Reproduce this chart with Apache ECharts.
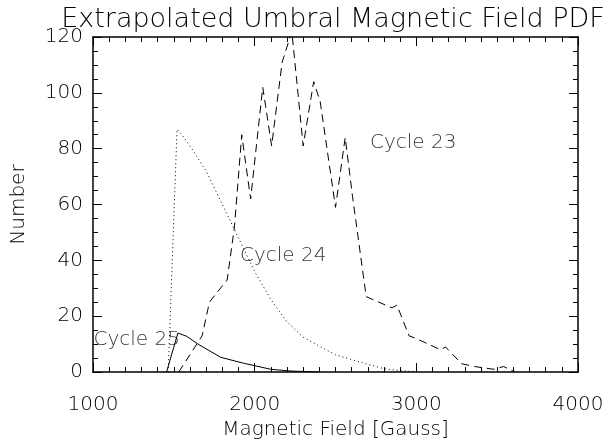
<!DOCTYPE html>
<html>
<head>
<meta charset="utf-8">
<script src="https://cdn.jsdelivr.net/npm/echarts@6/dist/echarts.min.js"></script>
<style>
  html, body { margin: 0; padding: 0; background: #fff; }
  #chart { width: 607px; height: 445px; }
</style>
</head>
<body>
<div id="chart"></div>
<script>
// [field (Gauss), number]
var cycle23 = [
  [1530, 0], [1675, 13], [1720, 25], [1760, 28], [1830, 33], [1875, 52], [1920, 85],
  [1975, 62], [2050, 102], [2105, 81], [2170, 111], [2230, 122], [2300, 81],
  [2365, 104], [2405, 97], [2500, 59], [2560, 84], [2605, 63], [2690, 27],
  [2850, 23], [2880, 24], [2955, 13], [3000, 12], [3150, 8], [3180, 9],
  [3280, 3], [3360, 2], [3480, 1], [3540, 2], [3610, 0]
];
var cycle24 = [
  [1465, 0], [1520, 87], [1550, 85], [1600, 81], [1700, 72], [1800, 60], [1900, 48],
  [2000, 36], [2100, 26], [2200, 18], [2300, 12.5], [2400, 9.3], [2500, 6.2],
  [2600, 4.5], [2700, 2.8], [2800, 1.2], [2900, 0.5], [3000, 0.2]
];
var cycle25 = [
  [1455, 0], [1525, 14], [1580, 12.8], [1650, 10], [1790, 5.3], [1930, 3.2],
  [2100, 1], [2220, 0.4], [2400, 0]
];
var labels = [
  { text: 'Cycle 23', at: [2713, 82] },
  { text: 'Cycle 24', at: [1909, 41.5] },
  { text: 'Cycle 25', at: [1003, 11.6] }
];

var chart = echarts.init(document.getElementById('chart'));
var font = 'DejaVu Sans';
var ink = '#000';

function axisBase(show) {
  return {
    axisLine: { show: true, onZero: false, lineStyle: { color: '#000', width: 1.5 } },
    axisTick: { show: true, inside: true, length: 9, lineStyle: { color: '#000' } },
    minorTick: { show: true, length: 5, lineStyle: { color: '#000' } },
    splitLine: { show: false },
    axisLabel: { show: show, color: ink, fontFamily: font, fontSize: 20, fontWeight: 300 }
  };
}

var xMain = Object.assign(axisBase(true), {
  type: 'value', min: 1000, max: 4000, interval: 1000, position: 'bottom',
  name: 'Magnetic Field [Gauss]', nameLocation: 'middle', nameGap: 46,
  nameTextStyle: { color: ink, fontFamily: font, fontSize: 20, fontWeight: 300 }
});
xMain.minorTick.splitNumber = 10;
xMain.axisLabel.margin = 23;
xMain.axisLabel.formatter = function (v) { return String(v); };
var xTop = Object.assign(axisBase(false), { type: 'value', min: 1000, max: 4000, interval: 1000, position: 'top' });
xTop.minorTick.splitNumber = 10;

var yMain = Object.assign(axisBase(true), {
  type: 'value', min: 0, max: 120, interval: 20, position: 'left',
  name: 'Number', nameLocation: 'middle', nameGap: 64,
  nameTextStyle: { color: ink, fontFamily: font, fontSize: 20, fontWeight: 300 }
});
yMain.minorTick.splitNumber = 4;
yMain.axisLabel.margin = 10;
var yRight = Object.assign(axisBase(false), { type: 'value', min: 0, max: 120, interval: 20, position: 'right' });
yRight.minorTick.splitNumber = 4;

function lineSeries(data, type) {
  return {
    type: 'line', data: data, xAxisIndex: 0, yAxisIndex: 0,
    symbol: 'none', animation: false, clip: true,
    lineStyle: { color: '#000', width: 1, type: type }
  };
}

var option = {
  backgroundColor: '#fff',
  title: {
    text: 'Extrapolated Umbral Magnetic Field PDF', left: 328, top: 1, textAlign: 'center',
    textStyle: { color: ink, fontFamily: font, fontSize: 27, fontWeight: 300 }
  },
  grid: { left: 93, right: 29, top: 37, bottom: 67 },
  xAxis: [xMain, xTop],
  yAxis: [yMain, yRight],
  series: [
    lineSeries(cycle23, [8, 5]),
    lineSeries(cycle24, [1, 3]),
    lineSeries(cycle25, 'solid'),
    {
      type: 'scatter', symbolSize: 0, animation: false,
      data: labels.map(function (l) { return { value: l.at, name: l.text }; }),
      label: {
        show: true, position: 'right', distance: 0,
        formatter: '{b}', color: ink, fontFamily: font, fontSize: 20, fontWeight: 300
      }
    }
  ]
};
chart.setOption(option);
</script>
</body>
</html>
